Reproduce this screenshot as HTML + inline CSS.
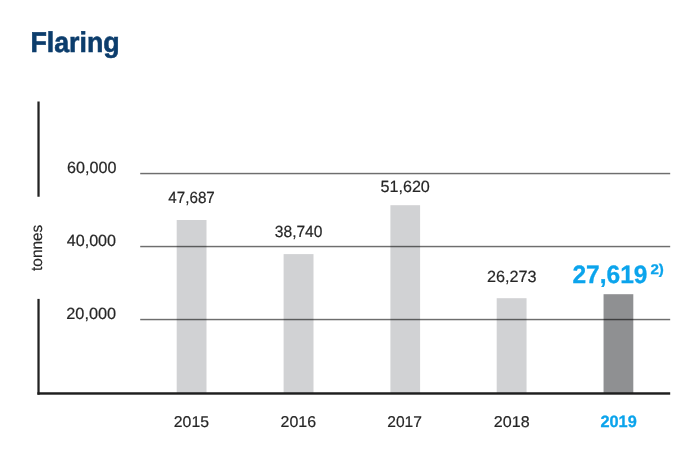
<!DOCTYPE html>
<html><head><meta charset="utf-8">
<style>
html,body{margin:0;padding:0;background:#fff;width:700px;height:471px;overflow:hidden}
svg{display:block}
text{font-family:"Liberation Sans",sans-serif;text-rendering:geometricPrecision}
</style></head>
<body>
<svg width="700" height="471" viewBox="0 0 700 471">
<rect x="176.7" y="220" width="29.8" height="173" fill="#d1d2d4"/>
<rect x="283.6" y="254.1" width="29.9" height="139" fill="#d1d2d4"/>
<rect x="390.4" y="205.2" width="29.7" height="188" fill="#d1d2d4"/>
<rect x="496.7" y="298.2" width="29.85" height="95" fill="#d1d2d4"/>
<rect x="603.55" y="294.2" width="29.75" height="99" fill="#8f9092"/>
<g fill="#000">
<rect x="140.2" y="172" width="530" height="1" fill-opacity="0.1"/>
<rect x="140.2" y="173" width="530" height="1" fill-opacity="0.57"/>
<rect x="140.2" y="174" width="530" height="1" fill-opacity="0.16"/>
<rect x="140.2" y="245" width="530" height="1" fill-opacity="0.1"/>
<rect x="140.2" y="246" width="530" height="1" fill-opacity="0.57"/>
<rect x="140.2" y="247" width="530" height="1" fill-opacity="0.16"/>
<rect x="140.2" y="318" width="530" height="1" fill-opacity="0.1"/>
<rect x="140.2" y="319" width="530" height="1" fill-opacity="0.57"/>
<rect x="140.2" y="320" width="530" height="1" fill-opacity="0.16"/>
</g>
<rect x="37.4" y="101.5" width="2.25" height="95.25" fill="#222"/>
<rect x="37.4" y="298.9" width="2.25" height="95.8" fill="#222"/>
<rect x="37.4" y="392.25" width="632.8" height="2.45" fill="#1e1e1e"/>
<g style="will-change:transform">
<text transform="translate(30.41 51.80) scale(0.9401 1)" font-size="28.49" font-weight="bold" fill="#0c3d6c" stroke="#0c3d6c" stroke-width="0.6">Flaring</text>
<text transform="translate(67.08 172.88) scale(0.9973 1)" font-size="16.21" font-weight="normal" fill="#262626" stroke="#262626" stroke-width="0.2">60,000</text>
<text transform="translate(66.73 246.18) scale(0.9963 1)" font-size="16.21" font-weight="normal" fill="#262626" stroke="#262626" stroke-width="0.2">40,000</text>
<text transform="translate(66.28 319.16) scale(1.0055 1)" font-size="16.21" font-weight="normal" fill="#262626" stroke="#262626" stroke-width="0.2">20,000</text>
<text transform="translate(168.35 202.53) scale(0.9381 1)" font-size="16.21" font-weight="normal" fill="#262626" stroke="#262626" stroke-width="0.2">47,687</text>
<text transform="translate(274.81 236.98) scale(0.9621 1)" font-size="16.21" font-weight="normal" fill="#262626" stroke="#262626" stroke-width="0.2">38,740</text>
<text transform="translate(380.45 192.45) scale(0.9979 1)" font-size="16.21" font-weight="normal" fill="#262626" stroke="#262626" stroke-width="0.2">51,620</text>
<text transform="translate(487.08 282.46) scale(1.0009 1)" font-size="16.21" font-weight="normal" fill="#262626" stroke="#262626" stroke-width="0.2">26,273</text>
<text transform="translate(173.81 426.70) scale(1.0124 1)" font-size="15.61" font-weight="normal" fill="#262626" stroke="#262626" stroke-width="0.2">2015</text>
<text transform="translate(280.50 426.70) scale(1.0224 1)" font-size="15.61" font-weight="normal" fill="#262626" stroke="#262626" stroke-width="0.2">2016</text>
<text transform="translate(387.22 426.70) scale(0.9983 1)" font-size="15.61" font-weight="normal" fill="#262626" stroke="#262626" stroke-width="0.2">2017</text>
<text transform="translate(493.79 426.70) scale(1.0311 1)" font-size="15.61" font-weight="normal" fill="#262626" stroke="#262626" stroke-width="0.2">2018</text>
<text transform="translate(600.48 427.25) scale(0.9986 1)" font-size="16.33" font-weight="bold" fill="#0ba4ec" stroke="#0ba4ec" stroke-width="0.3">2019</text>
<text transform="translate(572.40 283.35) scale(0.9792 1)" font-size="25.06" font-weight="bold" fill="#0ba4ec" stroke="#0ba4ec" stroke-width="0.3">27,619</text>
<text transform="translate(650.42 274.45) scale(1.0802 1)" font-size="14.04" font-weight="bold" fill="#0ba4ec" stroke="#0ba4ec" stroke-width="0.3">2)</text>
<text transform="translate(42.20 270.93) rotate(-90) scale(0.9853 1)" font-size="15.61" fill="#262626" stroke="#262626" stroke-width="0.2">tonnes</text>
</g>
</svg>
</body></html>
